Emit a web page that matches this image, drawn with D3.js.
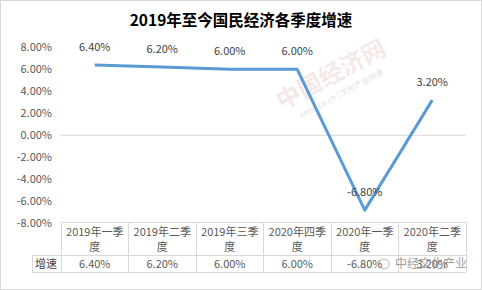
<!DOCTYPE html>
<html>
<head>
<meta charset="utf-8">
<script src="https://cdn.jsdelivr.net/npm/d3@7"></script>
<style>
  body { margin: 0; background: #fff; }
  svg { display: block; font-family: "Noto Sans CJK SC", "Noto Sans", sans-serif; }
</style>
</head>
<body>
<svg id="chart" width="482" height="290"></svg>
<script>
var title = "2019年至今国民经济各季度增速";
var quarters = ["2019年一季度", "2019年二季度", "2019年三季度", "2020年四季度", "2020年一季度", "2020年二季度"];
var growth = [6.4, 6.2, 6.0, 6.0, -6.8, 3.2];
var yTicks = [-8, -6, -4, -2, 0, 2, 4, 6, 8];
var rowLabel = "增速";

var width = 482, height = 290;
var svg = d3.select("#chart");

// frame
svg.append("rect")
  .attr("x", 0.5).attr("y", 0.5)
  .attr("width", width - 1).attr("height", height - 1)
  .attr("fill", "#fff").attr("stroke", "#d9d9d9");

svg.append("text")
  .attr("x", 241).attr("y", 26)
  .attr("text-anchor", "middle")
  .attr("font-size", 15.5).attr("font-weight", "bold")
  .attr("fill", "#000")
  .text(title);

var x = d3.scaleBand().domain(quarters).range([61, 466]);
var y = d3.scaleLinear().domain([-8, 8]).range([223.3, 47.3]);

var fmt = function (v) { return v.toFixed(2) + "%"; };

// watermark
var wm = svg.append("g").attr("transform", "translate(335,82) rotate(-28)");
wm.append("text").attr("text-anchor", "middle")
  .attr("font-size", 24).attr("font-weight", "bold")
  .attr("fill", "#e8b4b4").attr("opacity", 0.3)
  .text("中国经济网");
wm.append("text").attr("text-anchor", "middle").attr("y", 16)
  .attr("font-size", 8).attr("fill", "#bbb").attr("opacity", 0.45)
  .text("www.ce.cn | 文化产业频道");

// y axis labels
svg.append("g")
  .selectAll("text")
  .data(yTicks)
  .enter()
  .append("text")
  .attr("x", 52)
  .attr("y", function (d) { return y(d) + 4; })
  .attr("text-anchor", "end")
  .attr("font-size", 11)
  .attr("fill", "#595959")
  .text(fmt);

// zero line
svg.append("line")
  .attr("x1", 60).attr("x2", 466)
  .attr("y1", y(0)).attr("y2", y(0))
  .attr("stroke", "#d9d9d9").attr("stroke-width", 1);

var cx = function (d) { return x(d) + x.bandwidth() / 2; };
var pts = quarters.map(function (q, i) { return [cx(q), y(growth[i])]; });

svg.append("path")
  .datum(pts)
  .attr("d", d3.line())
  .attr("fill", "none")
  .attr("stroke", "#5b9bd5")
  .attr("stroke-width", 3)
  .attr("stroke-linejoin", "round");

svg.append("g")
  .selectAll("text")
  .data(quarters)
  .enter()
  .append("text")
  .attr("x", function (d) { return cx(d); })
  .attr("y", function (d, i) { return y(growth[i]) - 14; })
  .attr("text-anchor", "middle")
  .attr("font-size", 11)
  .attr("fill", "#404040")
  .text(function (d, i) { return fmt(growth[i]); });

// data table
var tTop = 222, tMid = 255, tBot = 272;
var grid = svg.append("g").attr("stroke", "#d9d9d9").attr("stroke-width", 1).attr("shape-rendering", "crispEdges");
grid.append("line").attr("x1", 61).attr("x2", 466).attr("y1", tTop).attr("y2", tTop);
grid.append("line").attr("x1", 32).attr("x2", 466).attr("y1", tMid).attr("y2", tMid);
grid.append("line").attr("x1", 32).attr("x2", 466).attr("y1", tBot).attr("y2", tBot);
grid.append("line").attr("x1", 32).attr("x2", 32).attr("y1", tMid).attr("y2", tBot);
grid.selectAll(".v")
  .data(quarters.concat(["end"]))
  .enter()
  .append("line")
  .attr("x1", function (d, i) { return i < quarters.length ? x(d) : 466; })
  .attr("x2", function (d, i) { return i < quarters.length ? x(d) : 466; })
  .attr("y1", tTop).attr("y2", tBot);

var head = svg.append("g").attr("font-size", 11).attr("fill", "#595959").attr("text-anchor", "middle");
quarters.forEach(function (q) {
  head.append("text").attr("x", cx(q)).attr("y", tTop + 14).text(q.slice(0, q.length - 1));
  head.append("text").attr("x", cx(q)).attr("y", tTop + 29).text(q.slice(-1));
});

svg.append("text")
  .attr("x", 46).attr("y", tMid + 13)
  .attr("text-anchor", "middle")
  .attr("font-size", 11).attr("fill", "#404040")
  .text(rowLabel);

svg.append("g")
  .selectAll("text")
  .data(quarters)
  .enter()
  .append("text")
  .attr("x", function (d) { return cx(d); })
  .attr("y", tMid + 13)
  .attr("text-anchor", "middle")
  .attr("font-size", 11)
  .attr("fill", "#595959")
  .text(function (d, i) { return fmt(growth[i]); });

// bottom-right logo mark (overlaps the table in the reference too)
svg.append("circle").attr("cx", 384).attr("cy", 264).attr("r", 5)
  .attr("fill", "none").attr("stroke", "#999").attr("stroke-width", 1).attr("opacity", 0.7);
svg.append("text")
  .attr("x", 395).attr("y", 268)
  .attr("font-size", 12).attr("fill", "#888").attr("opacity", 0.8)
  .text("中经文化产业");
</script>
</body>
</html>
